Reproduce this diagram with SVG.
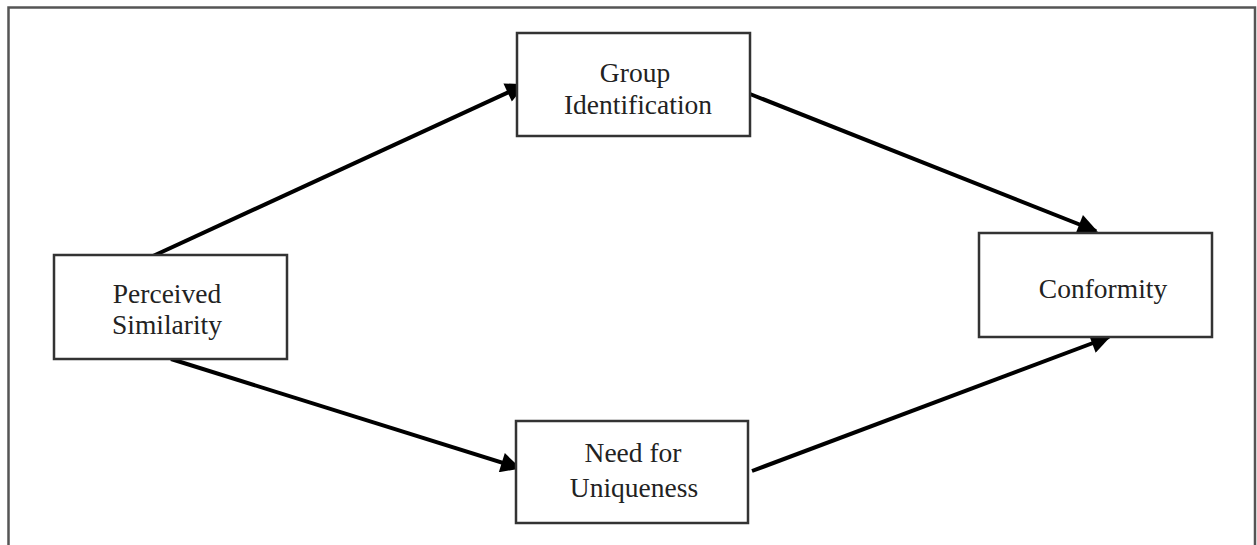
<svg xmlns="http://www.w3.org/2000/svg" width="1257" height="545" viewBox="0 0 1257 545">
<defs>
<style>
.box{fill:#fff;stroke:#333;stroke-width:2.5}
.lbl{font-family:"Liberation Serif","Times New Roman",serif;font-size:27.5px;fill:#222;text-anchor:middle}
.con{stroke:#000;stroke-width:4;fill:none;marker-end:url(#ah)}
</style>
<marker id="ah" viewBox="0 0 10 10" refX="9" refY="5" markerWidth="6" markerHeight="5" markerUnits="strokeWidth" orient="auto">
<path d="M0,0 L10,5 L0,10 z" fill="#000"/>
</marker>
</defs>
<rect width="1257" height="545" fill="#fff"/>
<path d="M8.5,545 V7.5 H1255 V545" fill="none" stroke="#555" stroke-width="2.5"/>
<g id="connectors">
<line class="con" x1="153" y1="256" x2="524" y2="85"/>
<line class="con" x1="750" y1="94" x2="1096" y2="231"/>
<line class="con" x1="171" y1="359" x2="519" y2="468"/>
<line class="con" x1="752" y1="471" x2="1109" y2="337"/>
</g>
<g id="group-identification">
<rect class="box" x="517" y="33" width="233" height="103"/>
<text class="lbl" x="635" y="82">Group</text>
<text class="lbl" x="638" y="114">Identification</text>
</g>
<g id="perceived-similarity">
<rect class="box" x="54" y="255" width="233" height="104"/>
<text class="lbl" x="167" y="303">Perceived</text>
<text class="lbl" x="167" y="334">Similarity</text>
</g>
<g id="conformity">
<rect class="box" x="979" y="233" width="233" height="104"/>
<text class="lbl" x="1103" y="298">Conformity</text>
</g>
<g id="need-for-uniqueness">
<rect class="box" x="516" y="421" width="232" height="102"/>
<text class="lbl" x="633" y="462">Need for</text>
<text class="lbl" x="634" y="497">Uniqueness</text>
</g>
</svg>
